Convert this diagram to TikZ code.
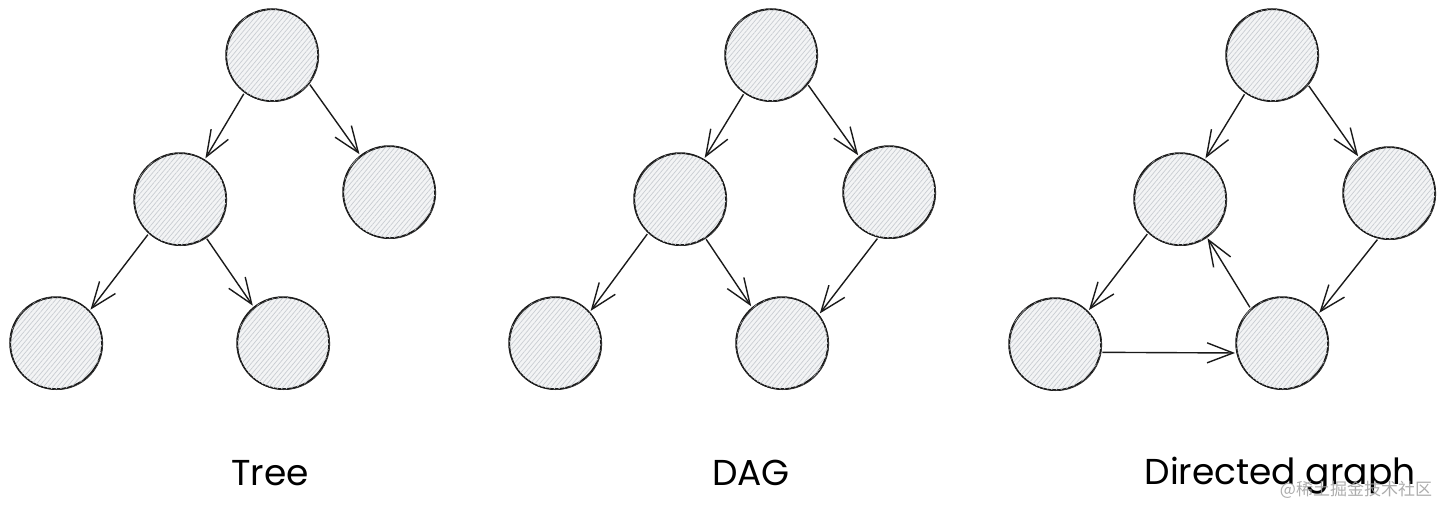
\documentclass[tikz,border=0pt]{standalone}
\usepackage{fontspec}
\setmainfont{Poppins}
\newfontfamily\cjk{Noto Sans CJK SC}
\usetikzlibrary{arrows.meta,patterns.meta}
\definecolor{ink}{HTML}{1A1A1A}
\definecolor{hatch}{HTML}{C9CDD2}
\definecolor{base}{HTML}{F3F4F5}
\tikzset{
  vtx/.style={circle, draw=ink, line width=1.5pt, minimum size=92pt, inner sep=0pt, outer sep=2pt,
    fill=base,
    postaction={pattern={Lines[angle=50,distance=3.6pt,line width=0.7pt]}, pattern color=hatch},
    postaction={draw=ink, line width=0.6pt, transform canvas={shift={(0.8pt,-0.7pt)}}}},
  arr/.style={draw=ink, line width=1.4pt, -{Straight Barb[length=26pt,width=20pt]}},
  lbl/.style={font=\fontsize{36}{40}\selectfont, text=black, anchor=base},
  wm/.style={font=\cjk\fontsize{17}{19}\selectfont, text=black!38, opacity=0.85}
}
\begin{document}
\begin{tikzpicture}[x=1pt,y=-1pt]
\useasboundingbox (0,0) rectangle (1444,506);
% Tree
\node[vtx] (t0) at (272,55) {};
\node[vtx] (t1) at (180,199) {};
\node[vtx] (t2) at (389,192) {};
\node[vtx] (t3) at (56,343) {};
\node[vtx] (t4) at (283,343) {};
\draw[arr] (t0.234) -- (t1.58);
\draw[arr] (t0.322) -- (t2.128);
\draw[arr] (t1.228) -- (t3.44);
\draw[arr] (t1.304) -- (t4.129);
% DAG
\node[vtx] (d0) at (771,55) {};
\node[vtx] (d1) at (680,199) {};
\node[vtx] (d2) at (889,192) {};
\node[vtx] (d3) at (555,343) {};
\node[vtx] (d4) at (782,343) {};
\draw[arr] (d0.235) -- (d1.59);
\draw[arr] (d0.321) -- (d2.130);
\draw[arr] (d1.227) -- (d3.42);
\draw[arr] (d1.303) -- (d4.130);
\draw[arr] (d2.256) -- (d4.38);
% Directed graph
\node[vtx] (g0) at (1272,55) {};
\node[vtx] (g1) at (1180,199) {};
\node[vtx] (g2) at (1389,193) {};
\node[vtx] (g3) at (1055,344) {};
\node[vtx] (g4) at (1282,343) {};
\draw[arr] (g0.235) -- (g1.58);
\draw[arr] (g0.320) -- (g2.130);
\draw[arr] (g1.227) -- (g3.45);
\draw[arr] (g2.256) -- (g4.39);
\draw[arr] (g4.132) -- (g1.305);
\draw[arr] (g3.350) -- (g4.192);
% labels
\node[lbl] (lt) at (270,485) {Tree};
\node[lbl] (ld) at (751,485) {DAG};
\node[lbl] (lg) at (1280,484) {Directed graph};
\node[wm] (w) at (1356,490) {@稀土掘金技术社区};
\end{tikzpicture}
\end{document}
